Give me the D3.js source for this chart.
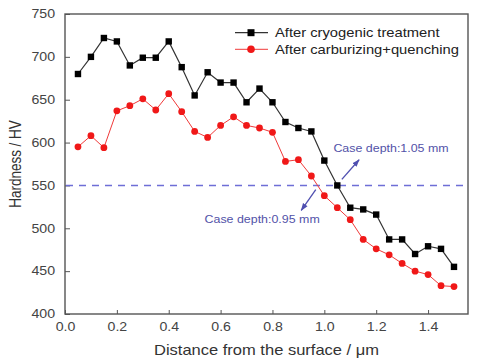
<!DOCTYPE html>
<html><head><meta charset="utf-8">
<script src="https://cdn.jsdelivr.net/npm/d3@7"></script>
<style>
body{margin:0;background:#fff;}
text{font-family:"Liberation Sans",Arial,sans-serif;}
</style></head>
<body><svg id="c" width="487" height="364"></svg>
<script>
const distance = [0.05,0.10,0.15,0.20,0.25,0.30,0.35,0.40,0.45,0.50,0.55,0.60,0.65,0.70,0.75,0.80,0.85,0.90,0.95,1.00,1.05,1.10,1.15,1.20,1.25,1.30,1.35,1.40,1.45,1.50];
const cryogenic = [680,700,722,718,690,699,699,718,688,655,682,670,670,647,663,647,624,617,613,579,550,524,522,516,487,487,470,479,476,455];
const carburizing = [595,608,594,637,643,651,638,657,636,613,606,620,630,620,617,612,578,580,561,538,524,510,487,476,469,459,450,446,433,432];
const seriesNames = ["After cryogenic treatment","After carburizing+quenching"];
const xTicks = [0,0.2,0.4,0.6,0.8,1.0,1.2,1.4];
const yTicks = [400,450,500,550,600,650,700,750];
const caseDepthLevel = 550;
const annoTexts = ["Case depth:1.05 mm","Case depth:0.95 mm"];
const annoTextPos = [[1.035,589],[0.538,506]];
const annoArrows = [[[1.0675,557],[1.134,580]],[[0.967,545],[0.911,521]]];

const svg = d3.select("#c");
const L=65,R=468,T=14,B=314;
const SX=1.18;
const x = d3.scaleLinear().domain([0,1.554]).range([L,R]);
const y = d3.scaleLinear().domain([400,750]).range([B,T]);

svg.append("defs").append("marker").attr("id","ah").attr("viewBox","0 0 10 10")
  .attr("refX",9).attr("refY",5).attr("markerWidth",6).attr("markerHeight",6).attr("orient","auto")
  .append("path").attr("d","M0,1.5L10,5L0,8.5z").attr("fill","#4f4fb0");

// axes
const gy = svg.append("g").attr("transform",`translate(${L},0)`)
  .call(d3.axisLeft(y).tickValues(yTicks).tickSize(-5).tickPadding(10).tickFormat(d3.format("d")));
const gx = svg.append("g").attr("transform",`translate(0,${B})`)
  .call(d3.axisBottom(x).tickValues(xTicks).tickSize(-4).tickPadding(3).tickFormat(d3.format(".1f")));
[gy,gx].forEach(g=>{
  g.select(".domain").remove();
  g.selectAll(".tick line").attr("stroke","#555").attr("stroke-width",1);
  g.selectAll(".tick text").attr("font-size",12).attr("fill","#444").attr("font-family","Liberation Sans, Arial, sans-serif");
});
gy.selectAll(".tick text").attr("x",0).attr("transform",`translate(-10,0) scale(${SX},1)`);
gx.selectAll(".tick text").attr("y",0).attr("dy","0.71em").attr("transform",`translate(0,8) scale(${SX},1)`);

svg.append("rect").attr("x",L).attr("y",T).attr("width",R-L).attr("height",B-T)
  .attr("fill","none").attr("stroke","#555").attr("stroke-width",1.4);

// titles
svg.append("text").attr("transform",`translate(${(L+R)/2},355) scale(${SX},1)`)
  .attr("text-anchor","middle").attr("font-size",14).attr("fill","#333").text("Distance from the surface / μm");
svg.append("text").attr("transform",`translate(21,164) scale(${SX},1) rotate(-90)`)
  .attr("text-anchor","middle").attr("font-size",13.5).attr("fill","#333").text("Hardness / HV");

// dashed level
svg.append("line").attr("x1",L+1).attr("x2",R-1).attr("y1",y(caseDepthLevel)).attr("y2",y(caseDepthLevel))
  .attr("stroke","#6e6ed6").attr("stroke-width",1.5).attr("stroke-dasharray","7,6");

const line = d3.line().x(d=>x(d[0])).y(d=>y(d[1]));
const redData = distance.map((d,i)=>[d,carburizing[i]]);
const blkData = distance.map((d,i)=>[d,cryogenic[i]]);

svg.append("path").datum(redData).attr("d",line).attr("fill","none").attr("stroke","#f03a3a").attr("stroke-width",1);
svg.append("path").datum(blkData).attr("d",line).attr("fill","none").attr("stroke","#333").attr("stroke-width",1.2);

svg.selectAll(".rc").data(redData).enter().append("circle")
  .attr("cx",d=>x(d[0])).attr("cy",d=>y(d[1])).attr("r",3.4).attr("fill","#f01818");
svg.selectAll(".bs").data(blkData).enter().append("rect")
  .attr("x",d=>x(d[0])-3.2).attr("y",d=>y(d[1])-3.2).attr("width",6.4).attr("height",6.4).attr("fill","#000");

// annotations
annoArrows.forEach(a=>{
  svg.append("line").attr("x1",x(a[0][0])).attr("y1",y(a[0][1])).attr("x2",x(a[1][0])).attr("y2",y(a[1][1]))
    .attr("stroke","#4f4fb0").attr("stroke-width",1.3).attr("marker-end","url(#ah)");
});
annoTexts.forEach((t,i)=>{
  svg.append("text").attr("transform",`translate(${x(annoTextPos[i][0])},${y(annoTextPos[i][1])}) scale(1.13,1)`)
    .attr("font-size",11).attr("fill","#5252a8").text(t);
});

// legend
const lg = [{c:"#333",mc:"#000",shape:"sq",ly:32.7},{c:"#f03a3a",mc:"#f01818",shape:"ci",ly:49.3}];
lg.forEach((l,i)=>{
  svg.append("line").attr("x1",235).attr("x2",268).attr("y1",l.ly).attr("y2",l.ly).attr("stroke",l.c).attr("stroke-width",i?1:1.2);
  if(l.shape==="sq") svg.append("rect").attr("x",251-3.5).attr("y",l.ly-3.5).attr("width",7).attr("height",7).attr("fill",l.mc);
  else svg.append("circle").attr("cx",251).attr("cy",l.ly).attr("r",3.8).attr("fill",l.mc);
  svg.append("text").attr("transform",`translate(275,${l.ly+4.5}) scale(${SX},1)`)
    .attr("font-size",12.5).attr("fill","#222").text(seriesNames[i]);
});
</script></body></html>
